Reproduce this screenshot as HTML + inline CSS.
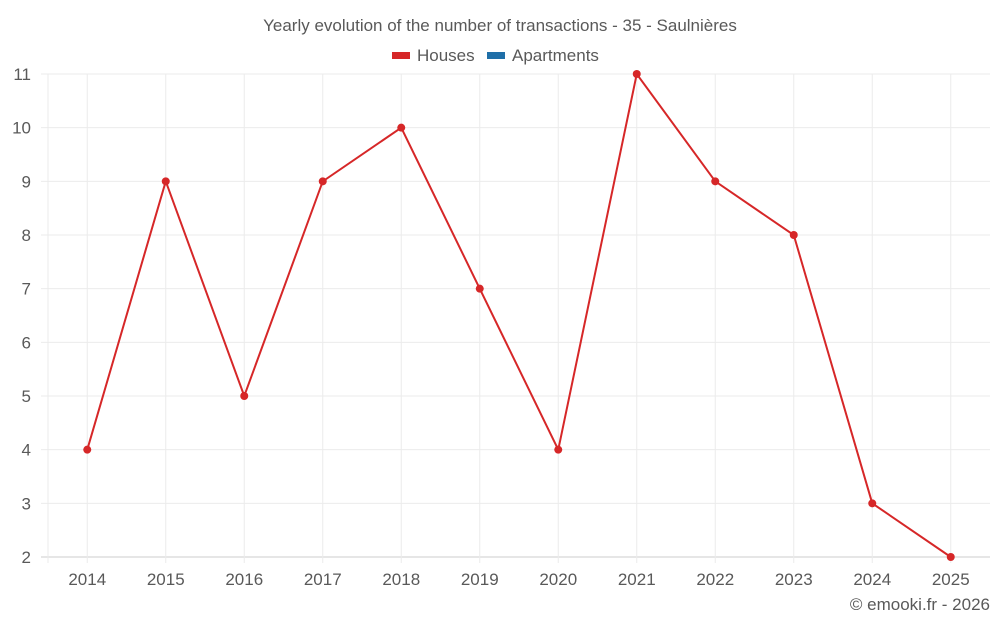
<!DOCTYPE html>
<html><head><meta charset="utf-8"><style>
body{margin:0;background:#fff;width:1000px;height:625px;overflow:hidden;font-family:"Liberation Sans",sans-serif}
</style></head><body>
<svg id="chart" width="1000" height="625" xmlns="http://www.w3.org/2000/svg">
<text x="500" y="31" text-anchor="middle" font-size="17" fill="#595959">Yearly evolution of the number of transactions - 35 - Saulnières</text>
<g>
<rect x="392" y="52" width="18" height="7" fill="#d62728"/>
<text x="417" y="61" font-size="17" fill="#595959">Houses</text>
<rect x="487" y="52" width="18" height="7" fill="#1f6fa8"/>
<text x="512" y="61" font-size="17" fill="#595959">Apartments</text>
</g>
<g id="grid"></g><g id="axes"></g><g id="series"></g>
<text x="990" y="610" text-anchor="end" font-size="17" fill="#595959">© emooki.fr - 2026</text>
</svg>
<script>
const years=["2014","2015","2016","2017","2018","2019","2020","2021","2022","2023","2024","2025"];
const houses=[4,9,5,9,10,7,4,11,9,8,3,2];
const yTicks=[2,3,4,5,6,7,8,9,10,11];
const NS="http://www.w3.org/2000/svg";
const L=48,R=990,T=74,B=557,yMin=2,yMax=11;
const step=(R-L)/years.length;
const xs=i=>L+step*(i+0.5);
const ys=v=>B-(v-yMin)/(yMax-yMin)*(B-T);
function mk(tag,attrs,parent){const e=document.createElementNS(NS,tag);for(const k in attrs)e.setAttribute(k,attrs[k]);parent.appendChild(e);return e;}
const grid=document.getElementById('grid'),axes=document.getElementById('axes'),ser=document.getElementById('series');
yTicks.forEach(v=>{
 const l=mk('line',{x1:41,x2:R,y1:ys(v),y2:ys(v),stroke:v===yMin?'#ccc':'#ebebeb','stroke-width':1},grid);
 
 
 const t=mk('text',{x:31,y:ys(v)+6,'text-anchor':'end','font-size':17,fill:'#595959'},axes);
 t.textContent=v;
 
 
});
const lv=mk('line',{x1:L,x2:L,y1:T,y2:B+6,stroke:'#ebebeb'},grid);


years.forEach((y,i)=>{
 const l=mk('line',{x1:xs(i),x2:xs(i),y1:T,y2:B+6,stroke:'#ebebeb'},grid);
 
 
 const t=mk('text',{x:xs(i),y:585,'text-anchor':'middle','font-size':17,fill:'#595959'},axes);
 t.textContent=y;
 
 
});
const p=mk('polyline',{points:houses.map((v,i)=>xs(i)+','+ys(v)).join(' '),fill:'none',stroke:'#d62728','stroke-width':2},ser);


houses.forEach((v,i)=>{
 const c=mk('circle',{cx:xs(i),cy:ys(v),r:4,fill:'#d62728'},ser);
 
 
});
</script>
</body></html>
